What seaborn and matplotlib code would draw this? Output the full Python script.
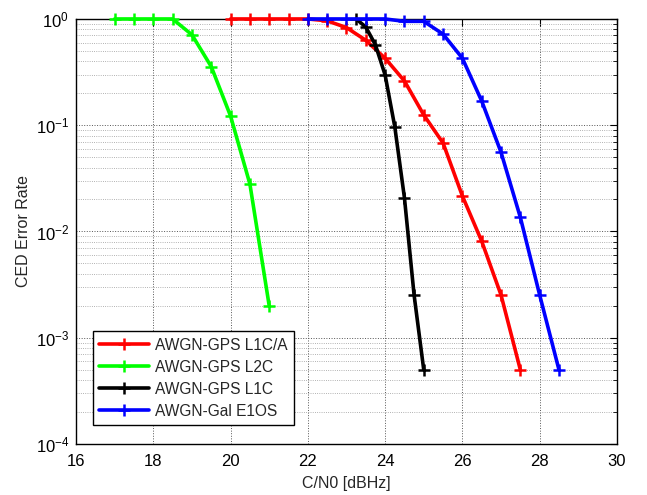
import numpy as np
import pandas as pd
import matplotlib
matplotlib.use("Agg")
import matplotlib.pyplot as plt
import seaborn as sns
from matplotlib.ticker import LogLocator, FixedLocator

# ---- data ----
l1ca_x = [20, 20.5, 21, 21.5, 22, 22.5, 23, 23.5, 24, 24.5, 25, 25.5, 26, 26.5, 27, 27.5]
l1ca_y = [1.0, 1.0, 1.0, 1.0, 1.0, 0.96, 0.83, 0.63, 0.427, 0.261, 0.125, 0.068, 0.0216, 0.0081, 0.00253, 0.0005]

l2c_x = [17, 17.5, 18, 18.5, 19, 19.5, 20, 20.5, 21]
l2c_y = [1.0, 1.0, 1.0, 1.0, 0.71, 0.356, 0.122, 0.028, 0.002]

l1c_x = [23.25, 23.5, 23.75, 24, 24.25, 24.5, 24.75, 25]
l1c_y = [1.0, 0.84, 0.57, 0.297, 0.097, 0.0208, 0.00253, 0.0005]

e1os_x = [22, 22.5, 23, 23.5, 24, 24.5, 25, 25.5, 26, 26.5, 27, 27.5, 28, 28.5]
e1os_y = [1.0, 1.0, 1.0, 1.0, 1.0, 0.95, 0.95, 0.72, 0.427, 0.169, 0.0557, 0.0136, 0.00253, 0.0005]

series_names = ["AWGN-GPS L1C/A", "AWGN-GPS L2C", "AWGN-GPS L1C", "AWGN-Gal E1OS"]
series_colors = ["#ff0000", "#00ff00", "#000000", "#0000ff"]
xticks = [16, 18, 20, 22, 24, 26, 28, 30]

frames = []
for name, xs, ys in zip(series_names, [l1ca_x, l2c_x, l1c_x, e1os_x], [l1ca_y, l2c_y, l1c_y, e1os_y]):
    frames.append(pd.DataFrame({"x": xs, "y": ys, "series": name}))
df = pd.concat(frames, ignore_index=True)

sns.set_theme(style="white")
plt.rcParams["font.family"] = ["Liberation Sans", "DejaVu Sans"]
plt.rcParams["mathtext.fontset"] = "custom"
plt.rcParams["mathtext.rm"] = "Liberation Sans"
plt.rcParams["mathtext.it"] = "Liberation Sans"

fig = plt.figure(figsize=(6.47, 4.95), dpi=100)
ax = fig.add_axes([0.1175, 0.103, 0.836, 0.8587])

for name, col in zip(series_names, series_colors):
    sub = df[df["series"] == name]
    sns.lineplot(data=sub, x="x", y="y", ax=ax, color=col, label=name,
                 marker="+", markersize=8, markeredgewidth=1.8,
                 markeredgecolor=col, linewidth=2.6, sort=False, estimator=None,
                 clip_on=False, zorder=3)

ax.set_yscale("log")
ax.set_xlim(16, 30)
ax.set_ylim(1e-4, 1)
ax.xaxis.set_major_locator(FixedLocator(xticks))
ax.set_xticklabels([str(t) for t in xticks])
ax.yaxis.set_major_locator(LogLocator(base=10, numticks=10))
ax.yaxis.set_minor_locator(LogLocator(base=10, subs=np.arange(2, 10), numticks=20))

ax.grid(True, which="major", axis="both", color="#555555", linestyle=":", linewidth=0.7)
ax.grid(True, which="minor", axis="y", color="#999999", linestyle=":", linewidth=0.6)
ax.set_axisbelow(True)

for s in ax.spines.values():
    s.set_color("black")
    s.set_linewidth(1.0)
ax.tick_params(which="both", direction="in", top=True, right=True, colors="black",
               labelsize=12)
ax.tick_params(which="major", length=5, width=0.8)
ax.tick_params(axis="x", which="major", pad=7)
ax.tick_params(axis="y", which="major", pad=5)
ax.tick_params(which="minor", length=3, width=0.6)

ax.set_xlabel("C/N0 [dBHz]", fontsize=11.5, labelpad=5)
ax.set_ylabel("CED Error Rate", fontsize=11.5, labelpad=3)

leg = ax.legend(loc="lower left", bbox_to_anchor=(0.031, 0.045), borderaxespad=0,
                fancybox=False, framealpha=1, edgecolor="black", fontsize=11.2,
                handlelength=3.2, handletextpad=0.4, labelspacing=0.45, borderpad=0.4)
leg.get_frame().set_linewidth(1.0)
leg.set_zorder(5)

fig.savefig("out.png", dpi=100)
